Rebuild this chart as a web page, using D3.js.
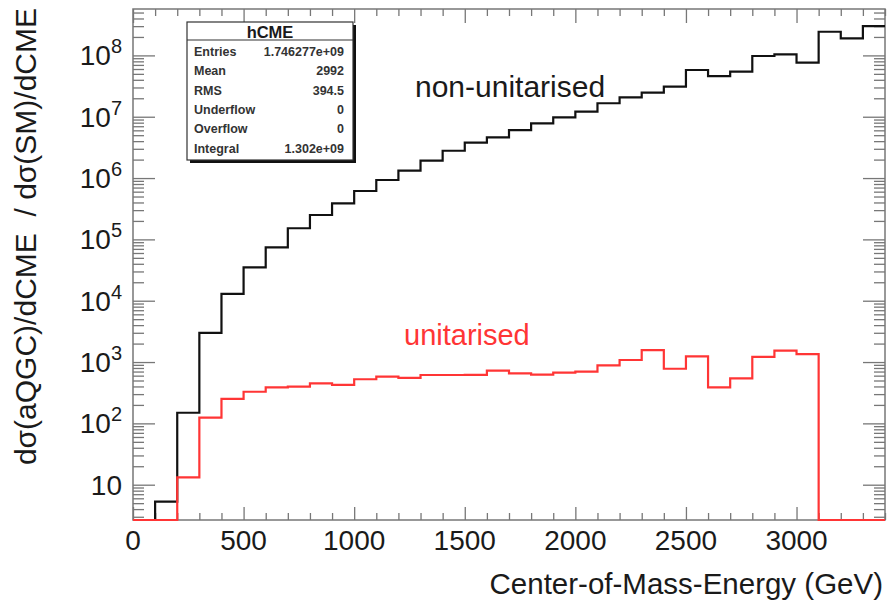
<!DOCTYPE html>
<html>
<head>
<meta charset="utf-8">
<script src="https://cdn.jsdelivr.net/npm/d3@7"></script>
<style>
  html, body { margin: 0; padding: 0; background: #fff; }
  svg { display: block; font-family: "Liberation Sans", Arial, Helvetica, sans-serif; }
</style>
</head>
<body>
<svg id="chart" width="888" height="609"></svg>
<script>
// ---- data ----
const binEdgesStart = 0;      // GeV
const binWidth = 100;         // GeV
const nonUnitarised = [0, 5.3, 149, 3000, 12900, 35000, 74000, 152000, 250000, 387000,
  615000, 930000, 1.32e6, 1.92e6, 2.79e6, 3.77e6, 4.61e6, 6.07e6, 7.82e6, 9.77e6,
  1.21e7, 1.66e7, 2.07e7, 2.47e7, 3.09e7, 5.78e7, 4.61e7, 5.42e7, 9.77e7, 1.04e8,
  7.6e7, 2.43e8, 1.9e8, 3.01e8];
const unitarised = [0, 0, 13.2, 124, 250, 328, 387, 396, 450, 423,
  524, 577, 550, 615, 615, 619, 723, 655, 622, 670,
  697, 885, 1080, 1570, 778, 1240, 387, 543, 1210, 1530,
  1350, 0, 0, 0];
const xMajorTicks = [0, 500, 1000, 1500, 2000, 2500, 3000];
const yDecadeExps = [1, 2, 3, 4, 5, 6, 7, 8];
const statsTitle = "hCME";
const statsLabels = ["Entries", "Mean", "RMS", "Underflow", "Overflow", "Integral"];
const statsValues = ["1.746277e+09", "2992", "394.5", "0", "0", "1.302e+09"];
const xTitle = "Center-of-Mass-Energy (GeV)";
const yTitle = "d\u03c3(aQGC)/dCME  / d\u03c3(SM)/dCME";

// ---- layout ----
const X0 = 133, X1 = 885, Y0 = 9, Y1 = 520;
const svg = d3.select("#chart");
const x = d3.scaleLinear().domain([0, 3400]).range([X0, X1]);
const y = d3.scaleLog().domain([2.657, 5.71e8]).range([Y1, Y0]);
const axisColor = "#777";
const textColor = "#1a1a1a";

// ---- ticks ----
const xMinor = d3.range(0, 3401, 100).filter(v => v % 500 !== 0);
const yMinor = [];
for (let e = 0; e <= 8; e++) for (let m = 2; m <= 9; m++) {
  const v = m * Math.pow(10, e);
  if (v > 2.657 && v < 5.71e8) yMinor.push(v);
}
const yMajor = yDecadeExps.map(e => Math.pow(10, e));

function styleAxis(g) {
  g.select(".domain").remove();
  g.selectAll(".tick line").attr("stroke", axisColor).attr("stroke-width", 1.3);
  g.selectAll(".tick text").remove();
}
// bottom
svg.append("g").attr("transform", `translate(0,${Y1})`)
  .call(d3.axisTop(x).tickValues(xMajorTicks).tickSize(13)).call(styleAxis);
svg.append("g").attr("transform", `translate(0,${Y1})`)
  .call(d3.axisTop(x).tickValues(xMinor).tickSize(7)).call(styleAxis);
// top
svg.append("g").attr("transform", `translate(0,${Y0})`)
  .call(d3.axisBottom(x).tickValues(xMajorTicks).tickSize(14)).call(styleAxis);
svg.append("g").attr("transform", `translate(0,${Y0})`)
  .call(d3.axisBottom(x).tickValues(xMinor).tickSize(7)).call(styleAxis);
// left
svg.append("g").attr("transform", `translate(${X0},0)`)
  .call(d3.axisRight(y).tickValues(yMajor).tickSize(22)).call(styleAxis);
svg.append("g").attr("transform", `translate(${X0},0)`)
  .call(d3.axisRight(y).tickValues(yMinor).tickSize(11)).call(styleAxis);
// right
svg.append("g").attr("transform", `translate(${X1},0)`)
  .call(d3.axisLeft(y).tickValues(yMajor).tickSize(22)).call(styleAxis);
svg.append("g").attr("transform", `translate(${X1},0)`)
  .call(d3.axisLeft(y).tickValues(yMinor).tickSize(11)).call(styleAxis);

// x tick labels
svg.append("g").selectAll("text").data(xMajorTicks).join("text")
  .attr("x", d => x(d)).attr("y", 550)
  .attr("text-anchor", "middle").attr("font-size", 28).attr("fill", textColor)
  .text(d => d);

// y tick labels
const yl = svg.append("g").selectAll("text").data(yDecadeExps).join("text")
  .attr("x", 122).attr("y", d => y(Math.pow(10, d)) + 10)
  .attr("text-anchor", "end").attr("font-size", 28).attr("fill", textColor);
yl.each(function(d) {
  const t = d3.select(this);
  if (d === 1) { t.text("10"); return; }
  t.append("tspan").text("10");
  t.append("tspan").attr("dy", -12).attr("font-size", 20).text(d);
});

// ---- histograms ----
function stepPath(vals) {
  const yc = v => v > y.domain()[0] ? y(v) : Y1;
  let p = `M${x(binEdgesStart)},${yc(vals[0])}`;
  vals.forEach((v, i) => {
    const xs = binEdgesStart + i * binWidth;
    if (i > 0) p += `V${yc(v)}`;
    p += `H${x(xs + binWidth)}`;
  });
  return p;
}
svg.append("clipPath").attr("id", "clipPlot").append("rect")
  .attr("x", X0 - 1).attr("y", Y0).attr("width", X1 - X0 + 2).attr("height", Y1 - Y0 + 1);

// frame
svg.append("rect").attr("x", X0).attr("y", Y0).attr("width", X1 - X0).attr("height", Y1 - Y0)
  .attr("fill", "none").attr("stroke", axisColor).attr("stroke-width", 1.5);

svg.append("path").attr("d", stepPath(nonUnitarised))
  .attr("fill", "none").attr("stroke", "#111").attr("stroke-width", 2.2)
  .attr("clip-path", "url(#clipPlot)");
svg.append("path").attr("d", stepPath(unitarised))
  .attr("fill", "none").attr("stroke", "#ff3535").attr("stroke-width", 2.2)
  .attr("clip-path", "url(#clipPlot)");

// labels in plot
svg.append("text").attr("x", 415).attr("y", 97).attr("font-size", 30).attr("fill", textColor)
  .text("non-unitarised");
svg.append("text").attr("x", 404).attr("y", 345).attr("font-size", 29).attr("fill", "#ff3535")
  .text("unitarised");

// axis titles
svg.append("text").attr("x", 883).attr("y", 594).attr("text-anchor", "end")
  .attr("font-size", 29.5).attr("fill", textColor).text(xTitle);
svg.append("text").attr("transform", "translate(36,8) rotate(-90)").attr("text-anchor", "end")
  .attr("font-size", 30).attr("fill", textColor)
  .style("white-space", "pre").text(yTitle);

// ---- stats box ----
const sb = { x: 187, y: 22, w: 166, h: 138 };
svg.append("rect").attr("x", sb.x + 3).attr("y", sb.y + 3).attr("width", sb.w).attr("height", sb.h)
  .attr("fill", "#111");
svg.append("rect").attr("x", sb.x).attr("y", sb.y).attr("width", sb.w).attr("height", sb.h)
  .attr("fill", "#fff").attr("stroke", "#333").attr("stroke-width", 1.2);
svg.append("line").attr("x1", sb.x).attr("x2", sb.x + sb.w).attr("y1", 40).attr("y2", 40)
  .attr("stroke", "#333").attr("stroke-width", 1.2);
svg.append("text").attr("x", sb.x + sb.w / 2).attr("y", 37.5).attr("text-anchor", "middle")
  .attr("font-size", 16.5).attr("font-weight", "bold").attr("fill", textColor).text(statsTitle);
const rows = svg.append("g").selectAll("g").data(statsLabels).join("g")
  .attr("transform", (d, i) => `translate(0,${56 + i * 19.3})`);
rows.append("text").attr("x", 194).attr("font-size", 12.5).attr("font-weight", "bold")
  .attr("fill", "#333").text(d => d);
rows.append("text").attr("x", 344).attr("text-anchor", "end").attr("font-size", 12.5)
  .attr("font-weight", "bold").attr("fill", "#333").text((d, i) => statsValues[i]);
</script>
</body>
</html>
